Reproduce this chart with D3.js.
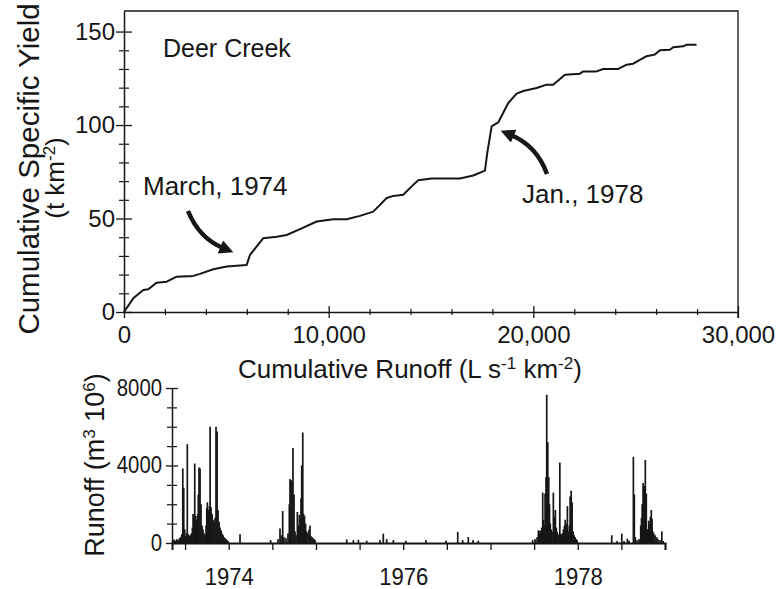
<!DOCTYPE html>
<html><head><meta charset="utf-8">
<script src="https://cdn.jsdelivr.net/npm/d3@7"></script>
<style>
html,body{margin:0;padding:0;background:#fff;}
svg text{font-family:"Liberation Sans",Arial,Helvetica,sans-serif;fill:#161616;}
</style></head>
<body><svg id="c" width="778" height="589"></svg>
<script>
// ---- Top panel: cumulative runoff vs cumulative specific yield ----
const cumRunoff = [0,454,943,1187,1597,2086,2574,3386,3713,4363,5017,5994,6155,6805,7460,7948,8598,9414,10225,10880,11529,12178,12506,12833,13159,13645,14133,14377,15031,16414,17064,17636,17748,17963,18285,18774,19184,19507,20159,20648,20973,21544,22276,22438,23090,23415,24148,24558,24881,25534,25940,26185,26673,26835,27323,27487,27975];
const cumYield  = [0,7.3,11.8,12.2,15.7,16.2,18.9,19.3,20.4,22.9,24.3,25.2,30.5,39.5,40.3,41.2,44.3,48.4,49.6,49.6,51.4,53.7,57.3,61.0,62.1,62.7,68.0,70.5,71.4,71.4,73.0,75.6,85,99.3,101.4,111.8,116.8,118.2,119.8,121.6,121.6,126.9,127.5,128.7,128.7,130.0,130.0,132.3,132.8,136.8,137.7,140.0,140.3,141.6,142.1,143.0,143.0];
const topXMajor = [0,10000,20000,30000];
const topXMinor = [2000,4000,6000,8000,12000,14000,16000,18000,22000,24000,26000,28000];
const topYMajor = [0,50,100,150];
const topYMinor = [10,20,30,40,60,70,80,90,110,120,130,140];

// ---- Bottom panel: runoff time series (decimal years) ----
const runoffYear = [
 1973.858,1973.873,1973.888,1973.904,1973.919,1973.934,1973.95,1973.961,1973.973,1973.984,1973.996,1974.007,1974.018,1974.025,1974.037,1974.048,1974.06,1974.071,1974.083,1974.091,1974.102,1974.11,1974.122,1974.133,1974.145,1974.151,1974.159,1974.171,1974.182,1974.194,1974.205,1974.217,1974.228,1974.24,1974.248,1974.255,1974.266,1974.278,1974.286,1974.297,1974.309,1974.32,1974.331,1974.343,1974.354,1974.366,1974.377,1974.389,1974.4,1974.412,1974.423,1974.435,1974.446,1974.457,1974.469,1974.48,1974.492,1974.629,
 1974.98,1975.065,1975.087,1975.099,1975.118,1975.133,1975.156,1975.179,1975.194,1975.202,1975.213,1975.225,1975.236,1975.248,1975.259,1975.271,1975.286,1975.297,1975.309,1975.320,1975.328,1975.336,1975.348,1975.357,1975.368,1975.38,1975.393,1975.408,1975.42,1975.431,1975.443,1975.454,1975.466,1975.477,1975.489,
 1975.852,1975.928,1975.985,1976.081,1976.233,1976.271,1976.31,1976.386,1976.53,1976.76,1976.99,1977.124,1977.18,1977.245,1977.3,1977.36,1977.983,
 1978.01,1978.033,1978.048,1978.058,1978.067,1978.075,1978.087,1978.098,1978.107,1978.117,1978.125,1978.136,1978.144,1978.156,1978.167,1978.176,1978.185,1978.196,1978.205,1978.22,1978.232,1978.243,1978.254,1978.263,1978.274,1978.294,1978.305,1978.314,1978.324,1978.335,1978.347,1978.356,1978.366,1978.381,1978.392,1978.403,1978.412,1978.424,1978.435,1978.447,1978.458,1978.47,1978.481,1978.492,
 1978.889,1978.95,1979.004,1979.03,1979.068,1979.087,1979.137,1979.148,1979.159,1979.179,1979.202,1979.221,1979.23,1979.238,1979.248,1979.257,1979.266,1979.274,1979.285,1979.294,1979.303,1979.313,1979.322,1979.332,1979.342,1979.351,1979.36,1979.371,1979.386,1979.405,1979.42,1979.443,1979.463,1979.478];
const runoffValue = [
 150,180,120,200,150,250,300,450,3850,2850,700,350,500,5100,450,350,400,500,800,1500,1300,4100,1400,1200,1500,2500,3900,3850,2000,900,700,500,400,900,1800,2100,1700,1900,6000,1850,1500,1200,1100,1300,6000,5750,1700,1100,800,650,500,400,300,250,200,150,100,450,
 150,200,750,400,1650,300,250,500,2000,3300,3250,3200,4900,2500,600,400,1600,900,1450,1200,2300,4000,5700,1500,1400,1000,600,500,700,900,350,300,250,200,150,
 180,150,170,120,150,480,200,150,120,150,130,570,150,310,150,120,150,
 200,300,650,500,650,550,800,2600,1200,900,2550,3400,7650,5200,3400,2000,1000,700,570,2600,1350,1700,800,570,450,4150,450,450,500,700,900,1200,1000,1900,600,900,2400,2700,2100,600,400,300,200,150,
 400,100,480,100,220,120,4450,2500,300,150,200,900,1300,2000,3100,2900,2950,4280,2550,700,700,1150,1000,1350,1700,1250,600,500,400,300,200,150,600,100];
const botXTicks = [1974,1974.5,1975,1975.5,1976,1976.5,1977,1977.5,1978,1978.5,1979,1979.5];
const yearLabels = [1974,1976,1978];
const botYMajor = [0,4000,8000];
const botYMinor = [1000,2000,3000,5000,6000,7000];

const ink = "#161616";
const svg = d3.select("#c");

// ===== Top panel =====
const xT = d3.scaleLinear().domain([0,30000]).range([124,738]);
const yT = d3.scaleLinear().domain([0,161]).range([312,11]);

svg.append("path").attr("d", `M${xT(0)},${yT(161)}H${xT(30000)}V${yT(0)+6}`)
  .attr("fill","none").attr("stroke",ink).attr("stroke-width",1.3);

const gxT = svg.append("g").attr("transform",`translate(0,${yT(0)})`)
  .call(d3.axisBottom(xT).tickValues(topXMajor).tickFormat(d3.format(",")).tickSizeOuter(0).tickSize(0).tickPadding(14));
gxT.select(".domain").attr("stroke",ink).attr("stroke-width",1.5);
gxT.selectAll(".tick line").attr("y1",-6).attr("y2",6).attr("stroke",ink).attr("stroke-width",1.3);
gxT.selectAll("text").attr("font-size",24).attr("fill",ink);
const gxTm = svg.append("g").attr("transform",`translate(0,${yT(0)})`)
  .call(d3.axisBottom(xT).tickValues(topXMinor).tickFormat("").tickSizeOuter(0));
gxTm.select(".domain").remove();
gxTm.selectAll(".tick line").attr("y1",-3).attr("y2",3).attr("stroke",ink).attr("stroke-width",1.2);

const gyT = svg.append("g").attr("transform",`translate(${xT(0)},0)`)
  .call(d3.axisLeft(yT).tickValues(topYMajor).tickSizeOuter(0).tickSize(0).tickPadding(9));
gyT.select(".domain").attr("stroke",ink).attr("stroke-width",1.5);
gyT.selectAll(".tick line").attr("x1",-8).attr("x2",8).attr("stroke",ink).attr("stroke-width",1.3);
gyT.selectAll("text").attr("font-size",24).attr("fill",ink);
const gyTm = svg.append("g").attr("transform",`translate(${xT(0)},0)`)
  .call(d3.axisLeft(yT).tickValues(topYMinor).tickFormat("").tickSizeOuter(0));
gyTm.select(".domain").remove();
gyTm.selectAll(".tick line").attr("x1",-5).attr("x2",5).attr("stroke",ink).attr("stroke-width",1.2);

const pts = cumRunoff.map((r,i)=>[r,cumYield[i]]);
svg.append("path").datum(pts)
  .attr("d", d3.line().x(d=>xT(d[0])).y(d=>yT(d[1])))
  .attr("fill","none").attr("stroke",ink).attr("stroke-width",2).attr("stroke-linejoin","round");

svg.append("text").attr("transform","translate(39,169) rotate(-90)").attr("text-anchor","middle")
  .attr("font-size",29.5).text("Cumulative Specific Yield");
const t2 = svg.append("text").attr("transform","translate(64,178) rotate(-90)").attr("text-anchor","middle").attr("font-size",26);
t2.append("tspan").text("(t km");
t2.append("tspan").attr("dy",-9).attr("font-size",17).text("-2");
t2.append("tspan").attr("dy",9).text(")");

const t3 = svg.append("text").attr("x",410).attr("y",378).attr("text-anchor","middle").attr("font-size",26);
t3.append("tspan").text("Cumulative Runoff (L s");
t3.append("tspan").attr("dy",-9).attr("font-size",17).text("-1");
t3.append("tspan").attr("dy",9).text(" km");
t3.append("tspan").attr("dy",-9).attr("font-size",17).text("-2");
t3.append("tspan").attr("dy",9).text(")");

svg.append("text").attr("x",163).attr("y",57).attr("font-size",25).text("Deer Creek");
svg.append("text").attr("x",143).attr("y",195).attr("font-size",26).text("March, 1974");
svg.append("text").attr("x",522).attr("y",203).attr("font-size",26).text("Jan., 1978");

const defs = svg.append("defs");
defs.append("marker").attr("id","ah").attr("viewBox","0 0 10 10").attr("refX",2).attr("refY",5)
  .attr("markerWidth",16).attr("markerHeight",14).attr("markerUnits","userSpaceOnUse").attr("orient","auto")
  .append("path").attr("d","M0,0L10,5L0,10z").attr("fill",ink);
svg.append("path").attr("d","M188,211 Q199,238 223,248").attr("fill","none").attr("stroke",ink)
  .attr("stroke-width",4.5).attr("marker-end","url(#ah)");
svg.append("path").attr("d","M547,174 Q537,146 511,135").attr("fill","none").attr("stroke",ink)
  .attr("stroke-width",4.5).attr("marker-end","url(#ah)");

// ===== Bottom panel =====
const xB = d3.scaleLinear().domain([1973.85,1979.5]).range([172,665]);
const yB = d3.scaleLinear().domain([0,8000]).range([543,388]);

const bars = runoffYear.map((t,i)=>({t, v: runoffValue[i]}));
svg.append("g").selectAll("rect").data(bars).join("rect")
  .attr("x", d=>xB(d.t)-0.8).attr("width",1.7)
  .attr("y", d=>yB(d.v)).attr("height", d=>yB(0)-yB(d.v)).attr("fill",ink);

const gxB = svg.append("g").attr("transform",`translate(0,${yB(0)})`)
  .call(d3.axisBottom(xB).tickValues(botXTicks).tickSizeOuter(0).tickSize(7).tickPadding(18)
    .tickFormat(v => yearLabels.includes(v-0.5) ? String(v-0.5) : ""));
gxB.select(".domain").attr("stroke",ink).attr("stroke-width",2);
gxB.selectAll(".tick line").attr("stroke",ink).attr("stroke-width",1.3);
gxB.selectAll("text").attr("font-size",24).attr("fill",ink)
  .filter(function(){ return this.textContent !== ""; })
  .attr("textLength",49).attr("lengthAdjust","spacingAndGlyphs");

const gyB = svg.append("g").attr("transform",`translate(${xB(1973.85)},0)`)
  .call(d3.axisLeft(yB).tickValues(botYMajor).tickFormat(d3.format("d")).tickSizeOuter(0).tickSize(0).tickPadding(10));
gyB.select(".domain").attr("stroke",ink).attr("stroke-width",1.5);
gyB.selectAll(".tick line").attr("x1",-6).attr("x2",6).attr("stroke",ink).attr("stroke-width",1.3);
gyB.selectAll("text").attr("font-size",23).attr("fill",ink)
  .attr("textLength", d => String(d).length * 11.3).attr("lengthAdjust","spacingAndGlyphs");
const gyBm = svg.append("g").attr("transform",`translate(${xB(1973.85)},0)`)
  .call(d3.axisLeft(yB).tickValues(botYMinor).tickFormat("").tickSizeOuter(0));
gyBm.select(".domain").remove();
gyBm.selectAll(".tick line").attr("x1",-5).attr("x2",5).attr("stroke",ink).attr("stroke-width",1.2);

const t4 = svg.append("text").attr("transform","translate(104,465) rotate(-90)").attr("text-anchor","middle").attr("font-size",27);
t4.append("tspan").text("Runoff (m");
t4.append("tspan").attr("dy",-9).attr("font-size",17).text("3");
t4.append("tspan").attr("dy",9).text(" 10");
t4.append("tspan").attr("dy",-9).attr("font-size",17).text("6");
t4.append("tspan").attr("dy",9).text(")");
</script></body></html>
